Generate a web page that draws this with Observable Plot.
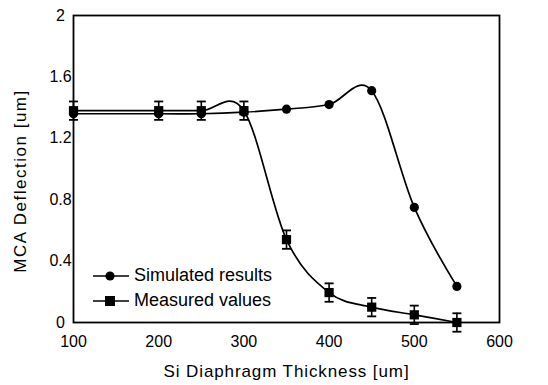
<!DOCTYPE html>
<html>
<head>
<meta charset="utf-8">
<script src="https://cdn.jsdelivr.net/npm/d3@7"></script>
<script src="https://cdn.jsdelivr.net/npm/@observablehq/plot@0.6"></script>
<style>
  html, body { margin: 0; padding: 0; background: #fff; }
  #wrap { position: relative; width: 548px; height: 385px; font-family: "Liberation Sans", Arial, sans-serif; }
  #legend { position: absolute; left: 93px; top: 263px; font-size: 18px; color: #000; }
  #legend .row { display: flex; align-items: center; height: 25px; white-space: nowrap; }
  #legend svg { margin-right: 5px; flex: none; }
</style>
</head>
<body>
<div id="wrap"></div>
<script>
const thickness = [100, 200, 250, 300, 350, 400, 450, 500, 550];
const simulated = [1.36, 1.36, 1.36, 1.37, 1.39, 1.42, 1.51, 0.75, 0.235];
const measured  = [1.38, 1.38, 1.38, 1.38, 0.54, 0.195, 0.10, 0.05, 0.0];
const measuredErr = [0.06, 0.06, 0.06, 0.06, 0.06, 0.06, 0.06, 0.06, 0.06];
const xTicks = [100, 200, 300, 400, 500, 600];
const yTicks = [0, 0.4, 0.8, 1.2, 1.6, 2];
const seriesNames = ["Simulated results", "Measured values"];
const xTitle = "Si Diaphragm Thickness [um]";
const yTitle = "MCA Deflection [um]";

const sim = thickness.map((t, i) => ({t, v: simulated[i]}));
const mea = thickness.map((t, i) => ({t, v: measured[i], lo: measured[i] - measuredErr[i], hi: measured[i] + measuredErr[i]}));

const capSymbol = {
  draw(ctx, size) {
    const w = 4.5;
    ctx.moveTo(-w, 0);
    ctx.lineTo(w, 0);
  }
};

const chart = Plot.plot({
  width: 548,
  height: 385,
  marginLeft: 73,
  marginRight: 49,
  marginTop: 15,
  marginBottom: 63,
  style: {fontFamily: "'Liberation Sans', Arial, sans-serif", background: "#fff", color: "#000"},
  x: {type: "linear", domain: [100, 600]},
  y: {type: "linear", domain: [0, 2]},
  marks: [
    Plot.frame({stroke: "#000", strokeWidth: 1.8}),
    Plot.axisX({ticks: xTicks, tickSize: 0, tickPadding: 13, fontSize: 16, label: null}),
    Plot.axisY({ticks: yTicks, tickSize: 0, tickPadding: 0, textAnchor: "middle", dx: -13, fontSize: 16, label: null, tickFormat: d => String(d)}),
    Plot.text([xTitle], {frameAnchor: "bottom", dy: 54, fontSize: 17, fill: "#000"}),
    Plot.text([yTitle], {frameAnchor: "left", textAnchor: "middle", dx: -53, dy: 12, rotate: -90, fontSize: 17, fill: "#000"}),
    Plot.line(sim, {x: "t", y: "v", curve: "cardinal", stroke: "#000", strokeWidth: 1.7}),
    Plot.line(mea, {x: "t", y: "v", curve: "cardinal", stroke: "#000", strokeWidth: 1.7}),
    Plot.ruleX(mea, {x: "t", y1: "lo", y2: "hi", stroke: "#000", strokeWidth: 1.6}),
    Plot.dot(mea, {x: "t", y: "lo", symbol: capSymbol, stroke: "#000", strokeWidth: 1.8, fill: "none"}),
    Plot.dot(mea, {x: "t", y: "hi", symbol: capSymbol, stroke: "#000", strokeWidth: 1.8, fill: "none"}),
    Plot.dot(sim, {x: "t", y: "v", r: 4.6, fill: "#000", stroke: "none"}),
    Plot.dot(mea, {x: "t", y: "v", symbol: "square", r: 5.2, fill: "#000", stroke: "none"})
  ]
});

// letter spacing for the axis titles
d3.select(chart).selectAll("text").each(function() {
  const t = this.textContent;
  if (t === xTitle) this.style.letterSpacing = "0.9px";
  if (t === yTitle) this.style.letterSpacing = "1.5px";
});

const wrap = document.getElementById("wrap");
wrap.appendChild(chart);

const legend = document.createElement("div");
legend.id = "legend";
const markers = [
  `<svg width="36" height="14"><line x1="0" y1="7" x2="36" y2="7" stroke="#000" stroke-width="1.6"/><circle cx="17" cy="7" r="4.6" fill="#000"/></svg>`,
  `<svg width="36" height="14"><line x1="0" y1="7" x2="36" y2="7" stroke="#000" stroke-width="1.6"/><rect x="12" y="2" width="10" height="10" fill="#000"/></svg>`
];
seriesNames.forEach((name, i) => {
  const row = document.createElement("div");
  row.className = "row";
  row.innerHTML = markers[i] + `<span>${name}</span>`;
  legend.appendChild(row);
});
wrap.appendChild(legend);
</script>
</body>
</html>
